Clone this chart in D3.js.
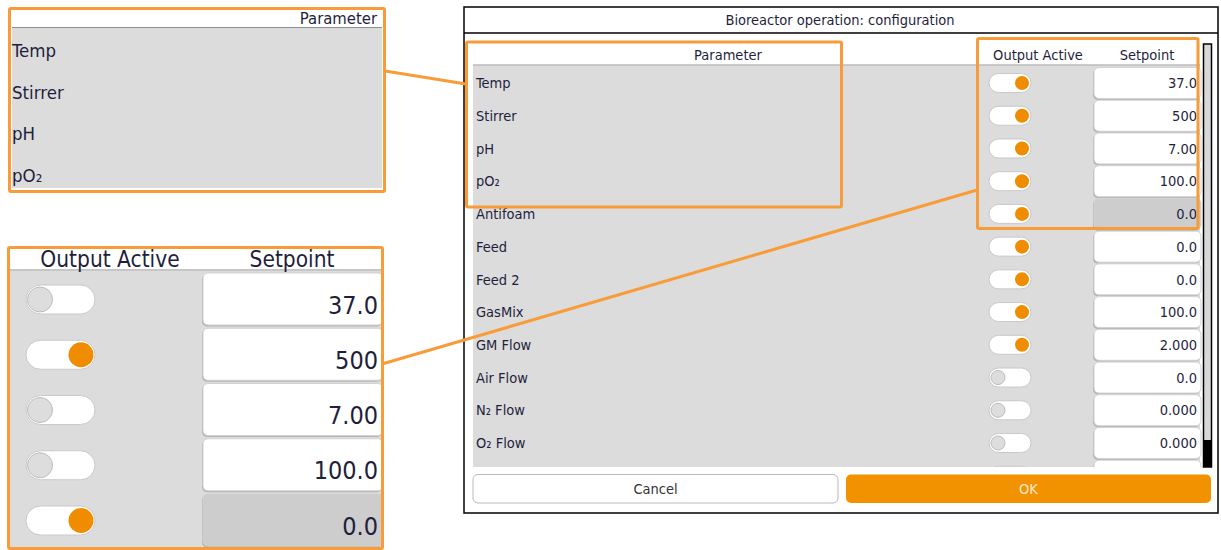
<!DOCTYPE html>
<html><head><meta charset="utf-8">
<script src="https://cdn.jsdelivr.net/npm/d3@7"></script>
<style>
body{margin:0;background:#fff}
svg{display:block}
text{font-family:"DejaVu Sans Condensed","DejaVu Sans",sans-serif;font-stretch:condensed;fill:#1f1f3d}
</style>
</head><body><svg id="c" width="1221" height="550"></svg>
<script>
// ---------- data ----------
const title = "Bioreactor operation: configuration";
const columnHeaders = ["Parameter", "Output Active", "Setpoint"];
const mainParams = ["Temp","Stirrer","pH","pO\u2082","Antifoam","Feed","Feed 2","GasMix","GM Flow","Air Flow","N\u2082 Flow","O\u2082 Flow","CO\u2082 Flow"];
const mainActive = [1,1,1,1,1,1,1,1,1,0,0,0,0];
const mainSetpoints = ["37.0","500","7.00","100.0","0.0","0.0","0.0","100.0","2.000","0.0","0.000","0.000","0.000"];
const mainDisabled = [0,0,0,0,1,0,0,0,0,0,0,0,0];
const zoomParams = ["Temp","Stirrer","pH","pO\u2082"];
const zoomActive = [0,1,0,0,1];
const zoomSetpoints = ["37.0","500","7.00","100.0","0.0"];
const zoomDisabled = [0,0,0,0,1];
const buttons = ["Cancel","OK"];

const ORANGE = "#f89c3a", KNOB = "#f08c00";
const svg = d3.select("#c");
const defs = svg.append("defs");

// ---------- helpers ----------
function toggle(g, cx, cy, w, h, r, on, offDx) {
  g.append("rect").attr("x", cx - w/2).attr("y", cy - h/2).attr("width", w).attr("height", h)
    .attr("rx", h/2).attr("fill", "#fff").attr("stroke", "#c9c9c9").attr("stroke-width", 1);
  const kx = on ? cx + offDx : cx - offDx;
  g.append("circle").attr("cx", kx).attr("cy", cy).attr("r", r)
    .attr("fill", on ? KNOB : "#dddddd").attr("stroke", on ? "none" : "#bcbcbc").attr("stroke-width", 1);
}
function valueBox(g, x, y, w, h, disabled) {
  g.append("rect").attr("x", x - 1).attr("y", y + 1.5).attr("width", w).attr("height", h)
    .attr("rx", 5).attr("fill", "#b4b4b4");
  g.append("rect").attr("x", x).attr("y", y).attr("width", w).attr("height", h)
    .attr("rx", 5).attr("fill", disabled ? "#cdcdcd" : "#fff").attr("stroke", "#d2d2d2").attr("stroke-width", 1);
}

// ---------- main dialog ----------
const dlg = svg.append("g");
dlg.append("rect").attr("x", 464).attr("y", 7).attr("width", 754).attr("height", 506)
  .attr("fill", "#fff").attr("stroke", "#000").attr("stroke-width", 1.5);
dlg.append("line").attr("x1", 464).attr("x2", 1218).attr("y1", 33).attr("y2", 33).attr("stroke", "#000").attr("stroke-width", 1.5);
dlg.append("text").attr("x", 840).attr("y", 20).attr("dy", "0.36em").attr("text-anchor", "middle")
  .attr("font-size", 14.5).text(title);

const headX = [728, 1038, 1147];
dlg.selectAll("text.h").data(columnHeaders).join("text").attr("class", "h")
  .attr("x", (d, i) => headX[i]).attr("y", 55).attr("dy", "0.36em").attr("text-anchor", "middle")
  .attr("font-size", 14.5).text(d => d);
dlg.append("rect").attr("x", 473).attr("y", 65.5).attr("width", 727).attr("height", 401.5).attr("fill", "#dcdcdc");
dlg.append("line").attr("x1", 473).attr("x2", 1200).attr("y1", 65).attr("y2", 65).attr("stroke", "#9a9a9a").attr("stroke-width", 1);

defs.append("clipPath").attr("id", "tableClip").append("rect")
  .attr("x", 466).attr("y", 66).attr("width", 736).attr("height", 401);

const yMain = d3.scaleLinear().domain([0, 11]).range([83, 443]);
const rowsG = dlg.append("g").attr("clip-path", "url(#tableClip)");
mainParams.forEach((p, i) => {
  const cy = yMain(i);
  const g = rowsG.append("g");
  valueBox(g, 1094, cy - 15.5, 107, 31, mainDisabled[i]);
  g.append("text").attr("x", 1197).attr("y", cy).attr("dy", "0.36em").attr("text-anchor", "end")
    .attr("font-size", 14.5).text(mainSetpoints[i]);
  toggle(g, 1010, cy, 42, 19, 7, mainActive[i], 12);
  g.append("text").attr("x", 476).attr("y", cy).attr("dy", "0.36em").attr("font-size", 14.5).text(p);
});

// scrollbar
dlg.append("rect").attr("x", 1203.5).attr("y", 44).attr("width", 8).attr("height", 423)
  .attr("fill", "#d8d8d8").attr("stroke", "#000").attr("stroke-width", 1.5);
dlg.append("rect").attr("x", 1203).attr("y", 440).attr("width", 9).attr("height", 27).attr("fill", "#000");

// buttons
const bx = [473, 846];
buttons.forEach((b, i) => {
  dlg.append("rect").attr("x", bx[i]).attr("y", 474.5).attr("width", 365).attr("height", 28.5).attr("rx", 5)
    .attr("fill", i ? "#f29200" : "#fff").attr("stroke", i ? "none" : "#b8b8b8").attr("stroke-width", 1);
  dlg.append("text").attr("x", bx[i] + 182.5).attr("y", 489).attr("dy", "0.36em").attr("text-anchor", "middle")
    .attr("font-size", 14.5).style("fill", i ? "#ffe8cc" : "#333").text(b);
});

// ---------- inset 1: parameter ----------
const in1 = svg.append("g");
in1.append("rect").attr("x", 12).attr("y", 28).attr("width", 370).attr("height", 160).attr("fill", "#dcdcdc");
in1.append("line").attr("x1", 12).attr("x2", 382).attr("y1", 27.5).attr("y2", 27.5).attr("stroke", "#8e8e8e").attr("stroke-width", 1.2);
in1.append("text").attr("x", 377).attr("y", 18).attr("dy", "0.36em").attr("text-anchor", "end")
  .attr("font-size", 16.5).text(columnHeaders[0]);
const y1 = d3.scaleLinear().domain([0, 3]).range([50.5, 175]);
in1.selectAll("text.r").data(zoomParams).join("text").attr("class", "r")
  .attr("x", 12).attr("y", (d, i) => y1(i)).attr("dy", "0.36em").attr("font-size", 18.5).text(d => d);

// ---------- inset 2: output active / setpoint ----------
const in2 = svg.append("g");
defs.append("clipPath").attr("id", "in2Clip").append("rect")
  .attr("x", 9).attr("y", 248).attr("width", 373).attr("height", 300);
const in2c = in2.append("g").attr("clip-path", "url(#in2Clip)");
in2c.append("rect").attr("x", 10).attr("y", 271).attr("width", 373).attr("height", 279).attr("fill", "#dcdcdc");
in2c.append("line").attr("x1", 10).attr("x2", 383).attr("y1", 270).attr("y2", 270).attr("stroke", "#8e8e8e").attr("stroke-width", 1.2);
const in2HeadX = [110, 292];
[columnHeaders[1], columnHeaders[2]].forEach((h, i) => {
  in2c.append("text").attr("x", in2HeadX[i]).attr("y", 258.5).attr("dy", "0.36em").attr("text-anchor", "middle")
    .attr("font-size", 22.5).text(h);
});
const y2 = d3.scaleLinear().domain([0, 4]).range([299.5, 520.5]);
zoomSetpoints.forEach((v, i) => {
  const cy = y2(i);
  const g = in2c.append("g");
  valueBox(g, 203, cy - 26.5, 180, 52, zoomDisabled[i]);
  g.append("text").attr("x", 378).attr("y", cy + 5).attr("dy", "0.36em").attr("text-anchor", "end")
    .attr("font-size", 25).text(v);
  toggle(g, 60.5, cy, 69, 29, 12.5, zoomActive[i], 20.5);
});

// ---------- annotation boxes & connectors ----------
const ann = svg.append("g").attr("fill", "none").attr("stroke", ORANGE).attr("stroke-width", 3);
ann.append("rect").attr("x", 9.5).attr("y", 8.5).attr("width", 375).attr("height", 183).attr("rx", 1.5);
ann.append("rect").attr("x", 8.5).attr("y", 247.5).attr("width", 374).attr("height", 301).attr("rx", 1.5);
ann.append("rect").attr("x", 466.5).attr("y", 42).attr("width", 375).attr("height", 165).attr("rx", 1.5);
ann.append("rect").attr("x", 977.5).attr("y", 38.5).attr("width", 220.5).attr("height", 190).attr("rx", 1.5);
ann.append("line").attr("x1", 385).attr("y1", 71).attr("x2", 466).attr("y2", 84);
ann.append("line").attr("x1", 382).attr("y1", 364).attr("x2", 977).attr("y2", 190);
</script></body></html>
